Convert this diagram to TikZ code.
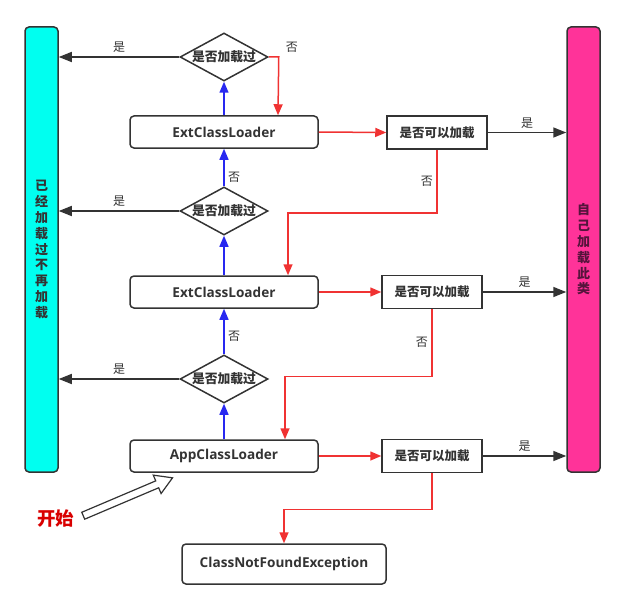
\documentclass[tikz,border=0pt]{standalone}
\usepackage{fontspec}
\setmainfont{Open Sans}
\newfontfamily\cjk{Noto Sans CJK SC}
\usetikzlibrary{shapes.geometric,shapes.arrows,arrows.meta}
\definecolor{barcyan}{RGB}{0,255,240}
\definecolor{barpink}{RGB}{255,51,153}
\definecolor{pinktext}{RGB}{85,20,60}
\definecolor{linered}{RGB}{240,50,50}
\definecolor{lineblue}{RGB}{40,40,240}
\definecolor{lineblack}{RGB}{51,51,51}
\tikzset{
  sidebar/.style={draw=lineblack, line width=1.5pt, rounded corners=4pt, minimum width=33pt, minimum height=445pt, align=center, inner sep=0pt, font=\cjk\bfseries\fontsize{13}{15.8}\selectfont},
  loader/.style={draw=lineblack, line width=1.5pt, rounded corners=4pt, minimum width=188pt, minimum height=32pt, text=lineblack, font=\bfseries\fontsize{13.6}{15}\selectfont},
  check/.style={diamond, aspect=1.8, draw=lineblack, line width=1.5pt, minimum width=88pt, minimum height=48pt, inner sep=0pt, text=lineblack, font=\cjk\bfseries\fontsize{12.8}{14}\selectfont},
  canload/.style={draw=lineblack, line width=1.5pt, minimum width=100pt, minimum height=33pt, text=lineblack, font=\cjk\bfseries\fontsize{12.5}{14}\selectfont},
  yesno/.style={text=lineblack, font=\cjk\fontsize{12}{14}\selectfont},
  redarrow/.style={draw=linered, line width=1.5pt, -{Triangle[length=11pt,width=9pt]}},
  bluearrow/.style={draw=lineblue, line width=1.5pt, -{Triangle[length=11pt,width=9pt]}},
  blackarrow/.style={draw=lineblack, line width=1.5pt, -{Triangle[length=13pt,width=10pt]}}
}
\begin{document}
\begin{tikzpicture}[x=1pt,y=-1pt]
        \useasboundingbox (0,0) rectangle (638,610);
        % side bars
        \node[sidebar, fill=barcyan, text=lineblack] (done) at (41.5,249.5) {已\\经\\加\\载\\过\\不\\再\\加\\载};
        \node[sidebar, fill=barpink, text=pinktext] (self) at (583.5,249.5) {自\\己\\加\\载\\此\\类};
        % loaders and checks
        \node[check] (chk1) at (224,57) {是否加载过};
        \node[loader] (ext1) at (224,132) {ExtClassLoader};
        \node[canload] (can1) at (437,132.5) {是否可以加载};
        \node[check] (chk2) at (224,211) {是否加载过};
        \node[loader] (ext2) at (224,292) {ExtClassLoader};
        \node[canload] (can2) at (432,292) {是否可以加载};
        \node[check] (chk3) at (224,379) {是否加载过};
        \node[loader] (app) at (224,456) {AppClassLoader};
        \node[canload] (can3) at (432,456) {是否可以加载};
        \node[loader, minimum width=204pt, minimum height=40pt] (cnf) at (284,564) {ClassNotFoundException};
        % start
        \node[single arrow, draw=lineblack, line width=1.2pt, fill=white, minimum height=97pt, minimum width=20pt, inner sep=3pt, single arrow head extend=6pt, single arrow tip angle=62, rotate=23] (go) at (125,498) {};
        \node[text=red!85!black, font=\cjk\bfseries\fontsize{18.5}{20}\selectfont] (start) at (56,519) {开始};
        % upward checks
        \draw[bluearrow] (app.north) -- (chk3.south);
        \draw[bluearrow] (chk3.north) -- (ext2.south) node[pos=0.4, right, yesno] {否};
        \draw[bluearrow] (ext2.north) -- (chk2.south);
        \draw[bluearrow] (chk2.north) -- (ext1.south) node[pos=0.25, right, yesno] {否};
        \draw[bluearrow] (ext1.north) -- (chk1.south);
        % already loaded
        \draw[blackarrow] (chk1.west) -- (chk1.west -| done.east) node[midway, above, yesno] {是};
        \draw[blackarrow] (chk2.west) -- (chk2.west -| done.east) node[midway, above, yesno] {是};
        \draw[blackarrow] (chk3.west) -- (chk3.west -| done.east) node[midway, above, yesno] {是};
        % downward loading
        \draw[redarrow] (chk1.east) -- ++(10,0) node[above right, xshift=3pt, yesno] {否} -- ([xshift=54pt]ext1.north);
        \draw[redarrow] (ext1.east) -- (can1.west);
        \draw[redarrow] (can1.south) -- ++(0,63) node[midway, left, yesno] {否} -| ([xshift=64pt]ext2.north);
        \draw[redarrow] (ext2.east) -- (can2.west);
        \draw[redarrow] (can2.south) -- ++(0,67) node[midway, left, yesno] {否} -| ([xshift=61pt]app.north);
        \draw[redarrow] (app.east) -- (can3.west);
        \draw[redarrow] (can3.south) -- ++(0,36) -| (cnf.north);
        % load by itself
        \draw[blackarrow] (can1.east) -- (can1.east -| self.west) node[midway, above, yesno] {是};
        \draw[blackarrow] (can2.east) -- (can2.east -| self.west) node[midway, above, yesno] {是};
        \draw[blackarrow] (can3.east) -- (can3.east -| self.west) node[midway, above, yesno] {是};
\end{tikzpicture}
\end{document}
